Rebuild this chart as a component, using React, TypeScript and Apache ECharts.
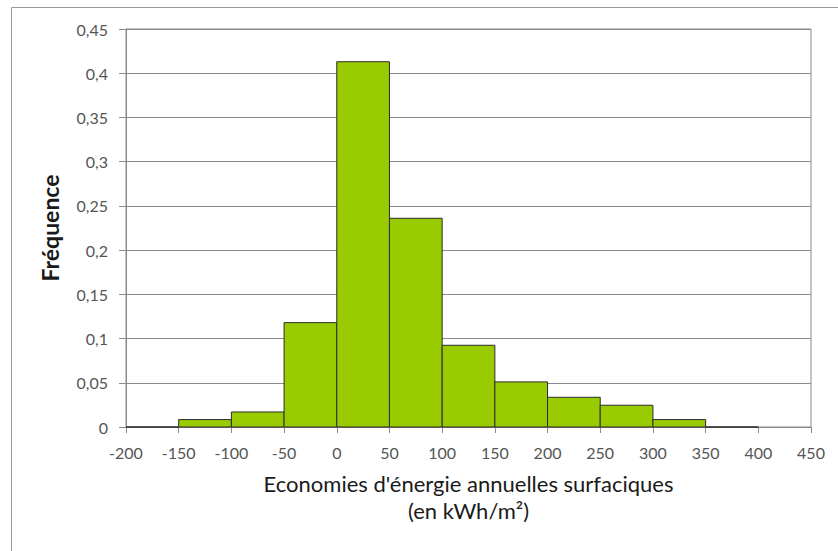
import React, { useEffect, useRef } from "react";
import * as echarts from "echarts";

const binStarts = [-200, -150, -100, -50, 0, 50, 100, 150, 200, 250, 300, 350];
const binWidth = 50;
const frequencies = [0, 0.0084, 0.017, 0.118, 0.413, 0.236, 0.0924, 0.051, 0.0336, 0.0246, 0.0084, 0];
const xTitle = "Economies d'énergie annuelles surfaciques\n(en kWh/m²)";
const yTitle = "Fréquence";

const FONT = "Lato, 'Open Sans', sans-serif";

export default function App() {
  const ref = useRef<HTMLDivElement>(null);
  useEffect(() => {
    document.body.style.margin = "0";
    const chart = echarts.init(ref.current!, undefined, { renderer: "svg" });
    const data = binStarts.map((s, i) => [s, s + binWidth, frequencies[i]]);
    chart.setOption({
      animation: false,
      backgroundColor: "#ffffff",
      grid: {
        left: 126,
        right: 27,
        top: 29,
        bottom: 124,
        show: true,
        borderColor: "#8a8a8a",
        borderWidth: 1,
      },
      xAxis: {
        type: "value",
        min: -200,
        max: 450,
        interval: 50,
        name: xTitle,
        nameLocation: "middle",
        nameGap: 43,
        nameTextStyle: {
          fontFamily: FONT,
          fontSize: 22,
          color: "#1a1a1a",
          lineHeight: 27,
          align: "center",
          verticalAlign: "top",
        },
        axisLine: { show: true, onZero: false, lineStyle: { color: "#8a8a8a", width: 1 } },
        axisTick: { show: true, length: 6, lineStyle: { color: "#8a8a8a" } },
        axisLabel: { margin: 17, fontFamily: FONT, fontSize: 16, color: "#555555" },
        splitLine: { show: false },
      },
      yAxis: {
        type: "value",
        min: 0,
        max: 0.45,
        interval: 0.05,
        name: yTitle,
        nameLocation: "middle",
        nameGap: 65,
        nameTextStyle: { fontFamily: FONT, fontSize: 23, fontWeight: "bold", color: "#1a1a1a" },
        axisLine: { show: true, onZero: false, lineStyle: { color: "#8a8a8a", width: 1 } },
        axisTick: { show: true, length: 7, lineStyle: { color: "#8a8a8a" } },
        axisLabel: {
          margin: 18,
          fontFamily: FONT,
          fontSize: 16,
          color: "#555555",
          formatter: (v: number) => String(Number(v.toFixed(2))).replace(".", ","),
        },
        splitLine: { show: true, lineStyle: { color: "#8a8a8a", width: 1 } },
      },
      graphic: [
        {
          type: "rect",
          shape: { x: 11.5, y: 7.5, width: 900, height: 700 },
          style: { fill: "none", stroke: "#9a9a9a", lineWidth: 1 },
          silent: true,
          z: -1,
        },
      ],
      series: [
        {
          type: "custom",
          data,
          encode: { x: [0, 1], y: 2 },
          renderItem: (params: any, api: any) => {
            const p0 = api.coord([api.value(0), 0]);
            const p1 = api.coord([api.value(1), api.value(2)]);
            return {
              type: "rect",
              shape: { x: p0[0], y: p1[1], width: p1[0] - p0[0], height: p0[1] - p1[1] },
              style: { fill: "#99cc00", stroke: "#2b2b2b", lineWidth: 1 },
            };
          },
          z: 3,
        },
      ],
    });
    return () => chart.dispose();
  }, []);
  return <div ref={ref} style={{ position: "absolute", left: 0, top: 0, width: 838, height: 551 }} />;
}
